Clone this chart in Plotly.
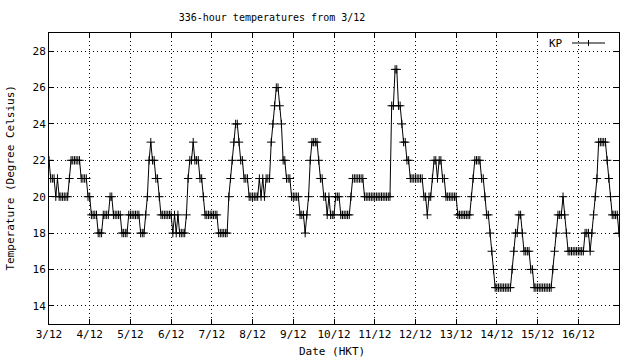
import plotly.graph_objects as go

# Day tick labels (each day = 24 hours from 3/12 00:00)
DAY_LABELS = ["3/12", "4/12", "5/12", "6/12", "7/12", "8/12", "9/12",
              "10/12", "11/12", "12/12", "13/12", "14/12", "15/12", "16/12"]
Y_TICKS = [14, 16, 18, 20, 22, 24, 26, 28]

# Hourly temperatures at KP (deg C), one list per day
day_3 = [22, 21, 21, 21, 20, 21, 20, 20, 20, 20, 20, 20, 21, 22, 22, 22, 22, 22, 22, 21, 21, 21, 21, 20]
day_4 = [20, 19, 19, 19, 19, 18, 18, 18, 19, 19, 19, 19, 20, 20, 19, 19, 19, 19, 19, 18, 18, 18, 18, 19]
day_5 = [19, 19, 19, 19, 19, 19, 18, 18, 18, 19, 20, 22, 23, 22, 22, 21, 21, 20, 19, 19, 19, 19, 19, 19]
day_6 = [19, 18, 19, 18, 19, 18, 18, 18, 18, 19, 21, 22, 22, 23, 22, 22, 22, 21, 21, 20, 19, 19, 19, 19]
day_7 = [19, 19, 19, 19, 18, 18, 18, 18, 18, 18, 20, 21, 22, 23, 24, 24, 23, 22, 22, 21, 21, 21, 20, 20]
day_8 = [20, 20, 20, 20, 21, 20, 21, 20, 21, 21, 21, 23, 24, 25, 26, 26, 25, 24, 22, 22, 21, 21, 21, 20]
day_9 = [20, 20, 20, 20, 19, 19, 19, 18, 19, 20, 22, 23, 23, 23, 23, 22, 21, 21, 20, 20, 19, 20, 19, 19]
day_10 = [19, 20, 20, 20, 19, 19, 19, 19, 19, 19, 20, 21, 21, 21, 21, 21, 21, 21, 20, 20, 20, 20, 20, 20]
day_11 = [20, 20, 20, 20, 20, 20, 20, 20, 20, 20, 25, 25, 27, 27, 25, 25, 24, 23, 23, 22, 22, 21, 21, 21]
day_12 = [21, 21, 21, 21, 21, 20, 20, 19, 20, 20, 21, 22, 22, 21, 22, 22, 21, 21, 20, 20, 20, 20, 20, 20]
day_13 = [20, 19, 19, 19, 19, 19, 19, 19, 19, 20, 21, 22, 22, 22, 22, 21, 21, 20, 19, 19, 18, 17, 16, 15]
day_14 = [15, 15, 15, 15, 15, 15, 15, 15, 15, 16, 17, 18, 18, 19, 19, 18, 17, 17, 17, 17, 16, 16, 15, 15]
day_15 = [15, 15, 15, 15, 15, 15, 15, 15, 15, 16, 17, 18, 19, 19, 19, 20, 19, 18, 17, 17, 17, 17, 17, 17]
day_16 = [17, 17, 17, 17, 18, 18, 18, 17, 18, 19, 20, 21, 23, 23, 23, 23, 23, 22, 21, 20, 19, 19, 19, 19, 18]

temps = (day_3 + day_4 + day_5 + day_6 + day_7 + day_8 + day_9 + day_10 +
         day_11 + day_12 + day_13 + day_14 + day_15 + day_16)
hours = list(range(len(temps)))

FONT = "DejaVu Sans Mono"

fig = go.Figure()
fig.add_trace(go.Scatter(
    x=hours, y=temps, mode="lines+markers", name="KP",
    line=dict(color="black", width=1),
    marker=dict(symbol="cross-thin", size=6, line=dict(color="black", width=1)),
    showlegend=False,
))

L, R, T, B = 49, 21, 33, 36
PW, PH = 640 - L - R, 360 - T - B


def px(xp):
    return (xp - L) / PW


def py(yp):
    return (360 - B - yp) / PH


fig.update_layout(
    width=640, height=360,
    margin=dict(l=L, r=R, t=T, b=B),
    paper_bgcolor="white", plot_bgcolor="white",
    font=dict(family=FONT, size=11, color="black"),
    title=dict(text="336-hour temperatures from 3/12", xref="container", yref="container",
               x=272 / 640, y=1 - 17 / 360, xanchor="center", yanchor="middle",
               font=dict(family=FONT, size=10, color="black")),
    xaxis=dict(
        range=[0, 336], tickmode="array",
        tickvals=[24 * i for i in range(len(DAY_LABELS))], ticktext=DAY_LABELS,
        showline=True, linecolor="black", linewidth=1, mirror="allticks",
        ticks="inside", ticklen=5, tickcolor="black",
        showgrid=True, gridcolor="black", gridwidth=1, griddash="1px,3px",
        zeroline=False, tickfont=dict(family=FONT, size=11),
    ),
    yaxis=dict(
        range=[13, 29], tickmode="array", tickvals=Y_TICKS,
        showline=True, linecolor="black", linewidth=1, mirror="allticks",
        ticks="inside", ticklen=5, tickcolor="black",
        showgrid=True, gridcolor="black", gridwidth=1, griddash="1px,3px",
        zeroline=False, tickfont=dict(family=FONT, size=11),
    ),
    annotations=[
        dict(text="Temperature (Degree Celsius)", xref="paper", yref="paper",
             x=px(10), y=0.5, textangle=-90, showarrow=False,
             xanchor="center", yanchor="middle", font=dict(family=FONT, size=11)),
        dict(text="Date (HKT)", xref="paper", yref="paper",
             x=px(332), y=py(351), showarrow=False,
             xanchor="center", yanchor="middle", font=dict(family=FONT, size=11)),
        dict(text="KP", xref="paper", yref="paper",
             x=px(565), y=py(43), showarrow=False,
             xanchor="right", yanchor="middle", font=dict(family=FONT, size=11)),
    ],
    shapes=[
        dict(type="line", xref="paper", yref="paper",
             x0=px(572), x1=px(605), y0=py(43), y1=py(43),
             line=dict(color="black", width=1)),
        dict(type="line", xref="paper", yref="paper",
             x0=px(588.5), x1=px(588.5), y0=py(40), y1=py(46),
             line=dict(color="black", width=1)),
    ],
)

fig.write_html("out.html", config={"displayModeBar": False},
               post_script="document.body.style.margin='0px';document.body.style.overflow='hidden';")
